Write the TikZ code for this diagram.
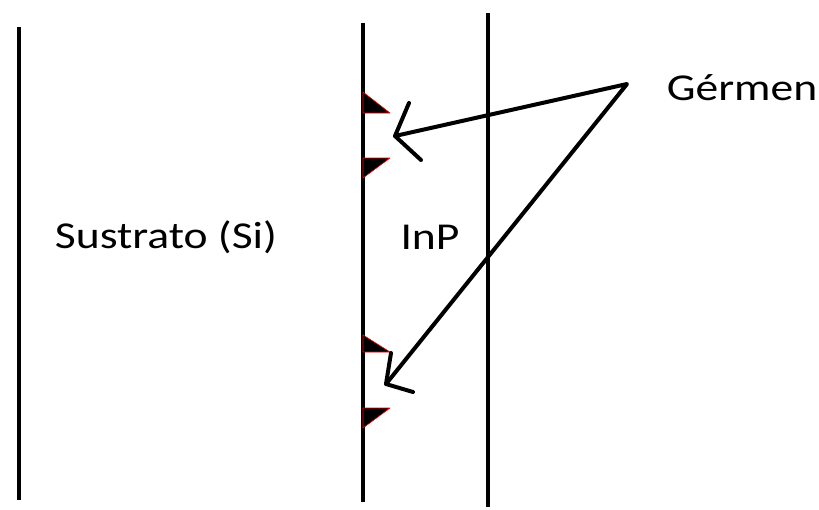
\documentclass[tikz,border=0pt]{standalone}
\usepackage{fontspec}
\setmainfont{Carlito}
\begin{document}
\begin{tikzpicture}[x=1pt,y=-1pt,
  wall/.style={line width=4.2pt},
  pen/.style={line width=4pt,line cap=round,line join=round},
  lbl/.style={inner sep=0pt,xscale=1.2,font=\fontsize{38}{44}\selectfont},
  germ/.style={fill=black,draw=red,line width=0.6pt,line join=round}]
\useasboundingbox (0,0) rectangle (819,509);
% layers
\coordinate (l1) at (19,27);  \coordinate (l2) at (19,500);
\coordinate (m1) at (363,23); \coordinate (m2) at (363,502);
\coordinate (r1) at (488,13); \coordinate (r2) at (488,507);
\draw[wall] (l1) -- (l2);
\draw[wall] (m1) -- (m2);
\draw[wall] (r1) -- (r2);
% labels
\node[lbl] (sus) at (166,237) {Sustrato (Si)};
\node[lbl] (inp) at (430,237) {InP};
\node[lbl] (ger) at (742,88) {Gérmen};
% germ triangles
\fill[germ] (363,92) -- (363,113) -- (390,113) -- cycle;
\fill[germ] (363,158) -- (390,158) -- (363,178) -- cycle;
\fill[germ] (363,335) -- (363,352) -- (390,352) -- cycle;
\fill[germ] (363,408) -- (390,408) -- (363,428) -- cycle;
% arrows
\coordinate (apex) at (627,84);
\coordinate (t1) at (395,136);
\coordinate (t1a) at (409,103);
\coordinate (t1b) at (421,160);
\coordinate (t2) at (386,384);
\coordinate (t2a) at (391,353);
\coordinate (t2b) at (413,392);
\draw[pen] (t1) -- (apex) -- (t2);
\draw[pen] (t1a) -- (t1) -- (t1b);
\draw[pen] (t2a) -- (t2) -- (t2b);
\end{tikzpicture}
\end{document}
